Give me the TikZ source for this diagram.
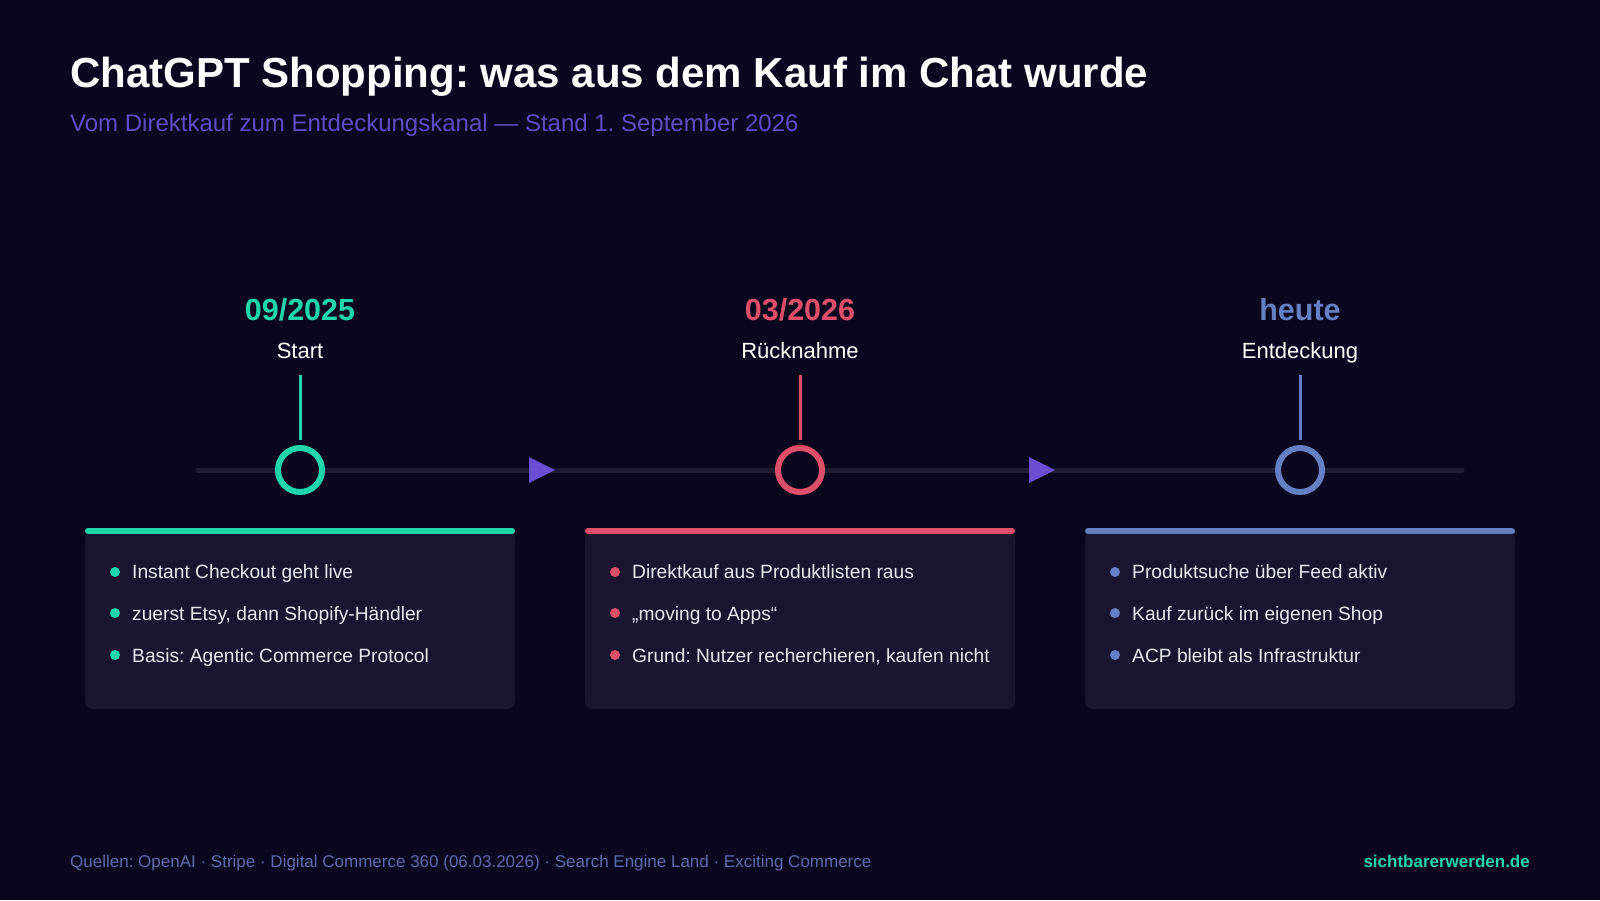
\documentclass[tikz,border=0pt]{standalone}
\usepackage{fontspec}
\setmainfont{Liberation Sans}
\usetikzlibrary{shapes.geometric}
\frenchspacing
\definecolor{bg}{HTML}{0B0620}
\definecolor{cardfill}{HTML}{191530}
\definecolor{track}{HTML}{1F1B36}
\definecolor{cgreen}{HTML}{1ED6AB}
\definecolor{cred}{HTML}{DF4F69}
\definecolor{cblue}{HTML}{6580C2}
\definecolor{cviolet}{HTML}{6A4FD2}
\definecolor{subcol}{HTML}{5E4DC2}
\definecolor{footcol}{HTML}{5E6BA8}
\definecolor{itemtxt}{HTML}{E8E8F2}
\tikzset{
  datelbl/.style={anchor=base, inner sep=0, font=\bfseries\fontsize{30.5}{35}\selectfont},
  sublbl/.style={anchor=base, inner sep=0, text=white, font=\fontsize{22}{26}\selectfont},
  ring/.style={circle, minimum size=44pt, inner sep=0, line width=6pt, fill=bg},
  stemline/.style={line width=3pt, shorten >=5pt},
  cardbox/.style={fill=cardfill, rounded corners=8pt},
  topbar/.style={line width=6pt, line cap=round},
  dot/.style={circle, minimum size=10pt, inner sep=0},
  itemtext/.style={anchor=base west, inner sep=0, text=itemtxt, font=\fontsize{19.2}{23}\selectfont},
}
\newcommand{\milestone}[8]{%
  \node[datelbl, text=#3] (date#1) at (#2,320) {#4};
  \node[sublbl] (lab#1) at (#2,358) {#5};
  \node[ring, draw=#3] (ring#1) at (#2,470) {};
  \coordinate (stemtop#1) at (#2,375);
  \draw[stemline, draw=#3] (stemtop#1) -- (ring#1.north);
  \fill[cardbox] (#2-215,531) rectangle (#2+215,709);
  \coordinate (barL#1) at (#2-212,531);
  \coordinate (barR#1) at (#2+212,531);
  \draw[topbar, draw=#3] (barL#1) -- (barR#1);
  \node[dot, fill=#3] (dA#1) at (#2-185,572) {};
  \node[itemtext] (tA#1) at (#2-168,578) {#6};
  \node[dot, fill=#3] (dB#1) at (#2-185,613) {};
  \node[itemtext] (tB#1) at (#2-168,620) {#7};
  \node[dot, fill=#3] (dC#1) at (#2-185,655) {};
  \node[itemtext] (tC#1) at (#2-168,662) {#8};
}
\begin{document}
\begin{tikzpicture}[x=1pt,y=-1pt]
\fill[bg] (0,0) rectangle (1600,900);
\useasboundingbox (0,0) rectangle (1600,900);
\node[anchor=base west, inner sep=0, text=white, font=\bfseries\fontsize{42}{50}\selectfont] (title) at (70,87) {ChatGPT Shopping: was aus dem Kauf im Chat wurde};
\node[anchor=base west, inner sep=0, text=subcol, font=\fontsize{24}{28}\selectfont] (subtitle) at (70,131) {Vom Direktkauf zum Entdeckungskanal — Stand 1. September 2026};
% timeline track
\coordinate (tlL) at (198,470);
\coordinate (tlR) at (1462,470);
\draw[track, line width=5pt, line cap=round] (tlL) -- (tlR);
% direction markers
\fill[cviolet] (529,457) -- (555,470) -- (529,483) -- cycle;
\fill[cviolet] (1029,457) -- (1055,470) -- (1029,483) -- cycle;
\milestone{1}{300}{cgreen}{09/2025}{Start}{Instant Checkout geht live}{zuerst Etsy, dann Shopify-Händler}{Basis: Agentic Commerce Protocol}
\milestone{2}{800}{cred}{03/2026}{Rücknahme}{Direktkauf aus Produktlisten raus}{„moving to Apps“}{Grund: Nutzer recherchieren, kaufen nicht}
\milestone{3}{1300}{cblue}{heute}{Entdeckung}{Produktsuche über Feed aktiv}{Kauf zurück im eigenen Shop}{ACP bleibt als Infrastruktur}
\node[anchor=base west, inner sep=0, text=footcol, font=\fontsize{17}{20}\selectfont] (sources) at (70,867) {Quellen: OpenAI · Stripe · Digital Commerce 360 (06.03.2026) · Search Engine Land · Exciting Commerce};
\node[anchor=base east, inner sep=0, text=cgreen, font=\bfseries\fontsize{17}{20}\selectfont] (brand) at (1530,867) {sichtbarerwerden.de};
\end{tikzpicture}
\end{document}
